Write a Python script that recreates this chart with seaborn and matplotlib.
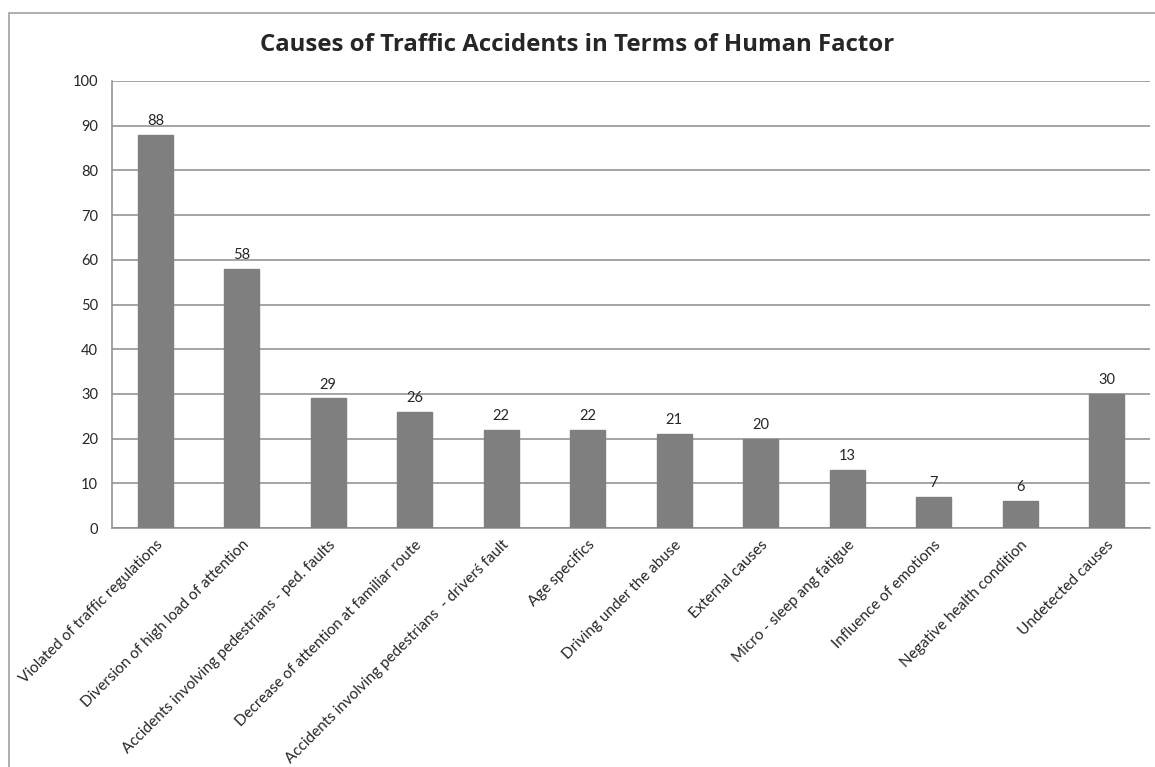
import matplotlib
matplotlib.use("Agg")
import matplotlib.pyplot as plt
import seaborn as sns
import pandas as pd
from matplotlib.patches import Rectangle

# Data
causes = [
    "Violated of traffic regulations",
    "Diversion of high load of attention",
    "Accidents involving pedestrians - ped. faults",
    "Decrease of attention at familiar route",
    "Accidents involving pedestrians  - drivers\u0301 fault",
    "Age specifics",
    "Driving under the abuse",
    "External causes",
    "Micro - sleep ang fatigue",
    "Influence of emotions",
    "Negative health condition",
    "Undetected causes",
]
counts = [88, 58, 29, 26, 22, 22, 21, 20, 13, 7, 6, 30]
y_ticks = list(range(0, 101, 10))

df = pd.DataFrame({"cause": causes, "count": counts})

sns.set_style("white")
plt.rcParams["font.family"] = ["Lato", "DejaVu Sans"]

fig = plt.figure(figsize=(11.55, 7.67), dpi=100)
ax = fig.add_axes([112 / 1155, 1 - 528 / 767, (1150 - 112) / 1155, (528 - 81) / 767])

# chart border
fig.patches.append(Rectangle((9 / 1155, -0.1), 1.2, 1 - 13 / 767 + 0.1,
                             transform=fig.transFigure, fill=False,
                             edgecolor="#a0a0a0", linewidth=1.2))

sns.barplot(data=df, x="cause", y="count", color="#7f7f7f", width=0.4,
            saturation=1, ax=ax, zorder=3)
for p in ax.patches:
    p.set_edgecolor("#7f7f7f")

ax.set_ylim(0, 100)
ax.set_xlim(-0.5, len(causes) - 0.5)
ax.set_yticks(y_ticks)
ax.yaxis.grid(True, color="#8c8c8c", linewidth=1.1, zorder=0)
ax.tick_params(axis="y", labelsize=10.5, length=0, pad=10)
ax.tick_params(axis="x", length=0, pad=7)
ax.set_xticks(range(len(causes)))
ax.set_xticklabels(causes, rotation=45, ha="right", rotation_mode="anchor", fontsize=11)
ax.set_xlabel("")
ax.set_ylabel("")
for s in ["top", "right"]:
    ax.spines[s].set_visible(False)
for s in ["left", "bottom"]:
    ax.spines[s].set_color("#8c8c8c")
    ax.spines[s].set_linewidth(1.1)

for i, v in enumerate(counts):
    ax.text(i, v + 1.5, str(v), ha="center", va="bottom", fontsize=10.5)

fig.text(0.5, 1 - 45 / 767, "Causes of Traffic Accidents in Terms of Human Factor",
         ha="center", va="center", fontsize=17.3, fontweight="bold",
         family=["Open Sans", "DejaVu Sans"])

fig.savefig("out.png", dpi=100)
